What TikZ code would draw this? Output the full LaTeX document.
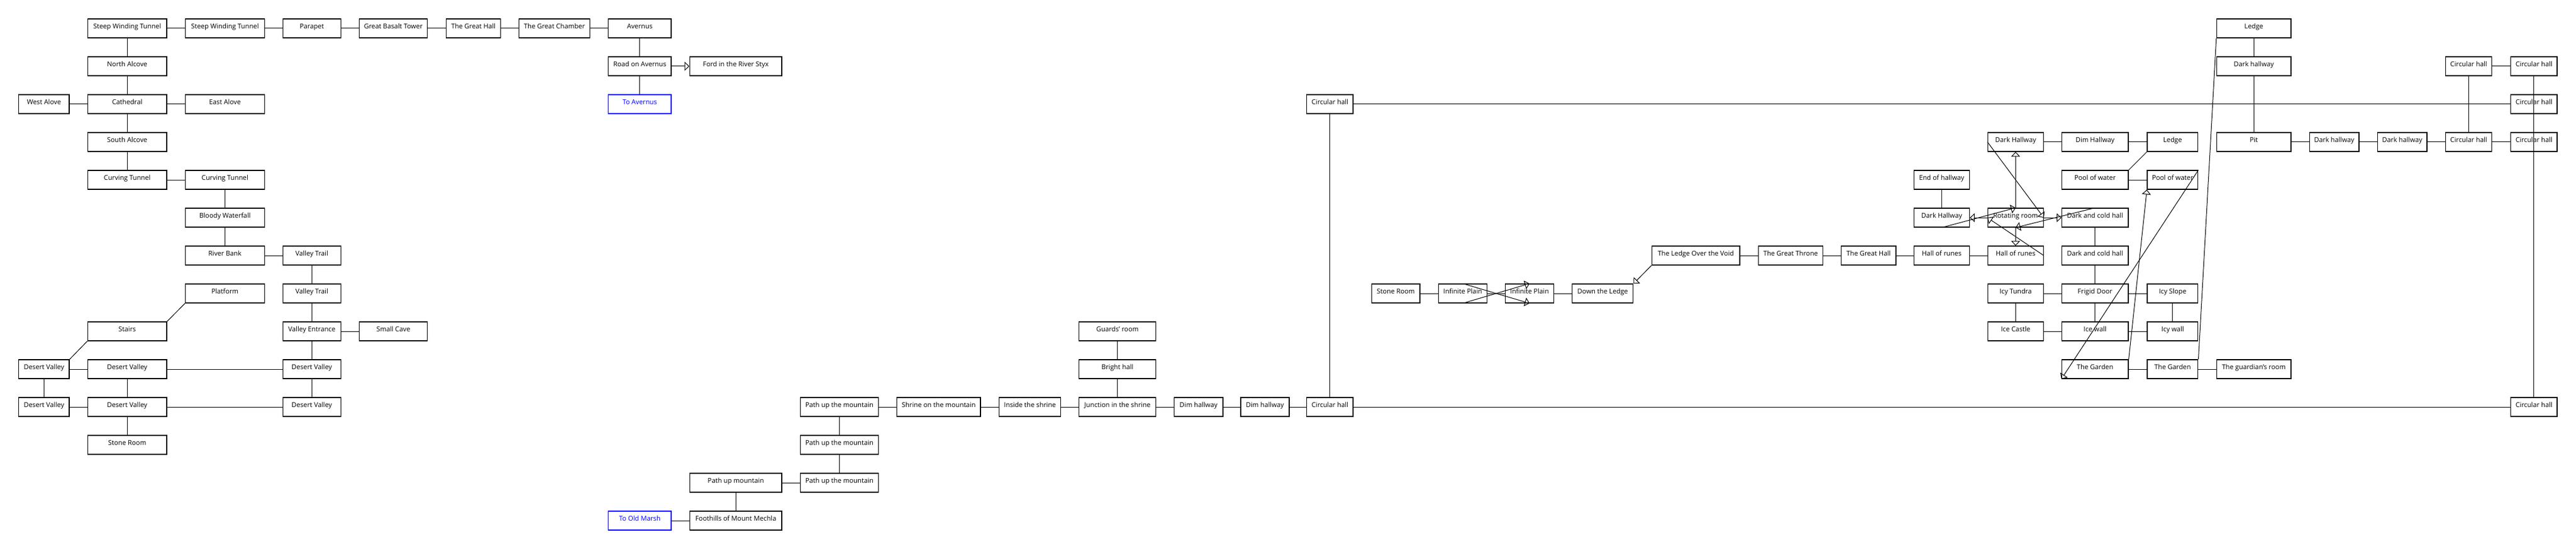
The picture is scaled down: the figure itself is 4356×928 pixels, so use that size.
\documentclass[tikz,border=0pt]{standalone}
\usepackage{fontspec}
\setmainfont{Open Sans}
\usetikzlibrary{arrows.meta}

\begin{document}
\begin{tikzpicture}[x=1pt,y=-1pt,line width=1pt,
  room/.style={draw,line width=1.3pt,minimum height=32pt,inner sep=0pt,
    text height=8.7pt,text depth=7.3pt,font=\fontsize{11.3}{13}\selectfont},
  exit/.style={room,draw=blue,text=blue},
  oneway/.style={-{Triangle[open,length=8pt,width=15pt]}}]
\useasboundingbox (0,0) rectangle (4356,928);

\node[room,minimum width=133.6pt] (swtA) at (215.1,48) {Steep Winding Tunnel};
\node[room,minimum width=133.6pt] (swtB) at (380.4,48) {Steep Winding Tunnel};
\node[room,minimum width=97.8pt] (parapet) at (527.3,48) {Parapet};
\node[room,minimum width=115.3pt] (tower) at (665.1,48) {Great Basalt Tower};
\node[room,minimum width=92.4pt] (greathallA) at (800.5,48) {The Great Hall};
\node[room,minimum width=119.6pt] (chamber) at (937.5,48) {The Great Chamber};
\node[room,minimum width=106.3pt] (avernus) at (1081.9,48) {Avernus};
\node[room,minimum width=133.6pt] (northalc) at (215.1,112) {North Alcove};
\node[room,minimum width=106.3pt] (road) at (1081.9,112) {Road on Avernus};
\node[room,minimum width=155.7pt] (ford) at (1244.2,112) {Ford in the River Styx};
\node[room,minimum width=85.4pt] (westalc) at (74.4,176) {West Alove};
\node[room,minimum width=133.6pt] (cathedral) at (215.1,176) {Cathedral};
\node[room,minimum width=133.6pt] (eastalc) at (380.4,176) {East Alove};
\node[exit,minimum width=106.3pt] (toavernus) at (1081.9,176) {To Avernus};
\node[room,minimum width=133.6pt] (southalc) at (215.1,240) {South Alcove};
\node[room,minimum width=133.6pt] (curvingA) at (215.1,304) {Curving Tunnel};
\node[room,minimum width=133.6pt] (curvingB) at (380.4,304) {Curving Tunnel};
\node[room,minimum width=133.6pt] (waterfall) at (380.4,368) {Bloody Waterfall};
\node[room,minimum width=133.6pt] (riverbank) at (380.4,432) {River Bank};
\node[room,minimum width=97.8pt] (trailA) at (527.3,432) {Valley Trail};
\node[room,minimum width=133.6pt] (platform) at (380.4,496) {Platform};
\node[room,minimum width=97.8pt] (trailB) at (527.3,496) {Valley Trail};
\node[room,minimum width=133.6pt] (stairs) at (215.1,560) {Stairs};
\node[room,minimum width=97.8pt] (entrance) at (527.3,560) {Valley Entrance};
\node[room,minimum width=115.3pt] (smallcave) at (665.1,560) {Small Cave};
\node[room,minimum width=85.4pt] (desertA) at (74.4,624) {Desert Valley};
\node[room,minimum width=133.6pt] (desertB) at (215.1,624) {Desert Valley};
\node[room,minimum width=97.8pt] (desertC) at (527.3,624) {Desert Valley};
\node[room,minimum width=85.4pt] (desertD) at (74.4,688) {Desert Valley};
\node[room,minimum width=133.6pt] (desertE) at (215.1,688) {Desert Valley};
\node[room,minimum width=97.8pt] (desertF) at (527.3,688) {Desert Valley};
\node[room,minimum width=133.6pt] (stoneroomA) at (215.1,752) {Stone Room};

\node[room,minimum width=131.7pt] (pathA) at (1419.5,688) {Path up the mountain};
\node[room,minimum width=141.5pt] (shrine) at (1587.3,688) {Shrine on the mountain};
\node[room,minimum width=104.2pt] (inside) at (1741.6,688) {Inside the shrine};
\node[room,minimum width=129.9pt] (junction) at (1889.6,688) {Junction in the shrine};
\node[room,minimum width=82.2pt] (dimA) at (2026.8,688) {Dim hallway};
\node[room,minimum width=82.1pt] (dimB) at (2138.9,688) {Dim hallway};
\node[room,minimum width=78.2pt] (circG) at (2248.9,688) {Circular hall};
\node[room,minimum width=129.9pt] (guards) at (1889.6,560) {Guards' room};
\node[room,minimum width=129.9pt] (bright) at (1889.6,624) {Bright hall};
\node[room,minimum width=131.7pt] (pathB) at (1419.5,752) {Path up the mountain};
\node[room,minimum width=155.7pt] (pathC) at (1244.2,816) {Path up mountain};
\node[room,minimum width=131.7pt] (pathD) at (1419.5,816) {Path up the mountain};
\node[exit,minimum width=106.3pt] (tomarsh) at (1081.9,880) {To Old Marsh};
\node[room,minimum width=155.7pt] (foothills) at (1244.2,880) {Foothills of Mount Mechla};

\node[room,minimum width=78.2pt] (circC) at (2248.9,176) {Circular hall};
\node[room,minimum width=81.3pt] (stoneroomB) at (2360.3,496) {Stone Room};
\node[room,minimum width=81.7pt] (plainA) at (2473.5,496) {Infinite Plain};
\node[room,minimum width=81.7pt] (plainB) at (2586.4,496) {Infinite Plain};
\node[room,minimum width=103.1pt] (downledge) at (2710.1,496) {Down the Ledge};
\node[room,minimum width=148.8pt] (ledgevoid) at (2867.7,432) {The Ledge Over the Void};
\node[room,minimum width=108.5pt] (throne) at (3027.9,432) {The Great Throne};
\node[room,minimum width=92.4pt] (greathallB) at (3159.8,432) {The Great Hall};

\node[room,minimum width=94pt] (darkhallN) at (3408.4,240) {Dark Hallway};
\node[room,minimum width=112.5pt] (dimhallN) at (3542.7,240) {Dim Hallway};
\node[room,minimum width=85.8pt] (ledgeN) at (3673.9,240) {Ledge};
\node[room,minimum width=94pt] (endhall) at (3283.4,304) {End of hallway};
\node[room,minimum width=112.5pt] (poolA) at (3542.7,304) {Pool of water};
\node[room,minimum width=85.8pt] (poolB) at (3673.9,304) {Pool of water};
\node[room,minimum width=94pt] (darkhallW) at (3283.4,368) {Dark Hallway};
\node[room,minimum width=94pt] (rotating) at (3408.4,368) {Rotating room};
\node[room,minimum width=112.5pt] (coldhallA) at (3542.7,368) {Dark and cold hall};
\node[room,minimum width=94pt] (runesA) at (3283.4,432) {Hall of runes};
\node[room,minimum width=94pt] (runesB) at (3408.4,432) {Hall of runes};
\node[room,minimum width=112.5pt] (coldhallB) at (3542.7,432) {Dark and cold hall};
\node[room,minimum width=94pt] (tundra) at (3408.4,496) {Icy Tundra};
\node[room,minimum width=112.5pt] (frigid) at (3542.7,496) {Frigid Door};
\node[room,minimum width=85.8pt] (icyslope) at (3673.9,496) {Icy Slope};
\node[room,minimum width=94pt] (icecastle) at (3408.4,560) {Ice Castle};
\node[room,minimum width=112.5pt] (icewall) at (3542.7,560) {Ice wall};
\node[room,minimum width=85.8pt] (icywall) at (3673.9,560) {Icy wall};
\node[room,minimum width=112.5pt] (gardenA) at (3542.7,624) {The Garden};
\node[room,minimum width=85.8pt] (gardenB) at (3673.9,624) {The Garden};
\node[room,minimum width=125.6pt] (guardian) at (3811.2,624) {The guardian's room};

\node[room,minimum width=125.6pt] (ledgeT) at (3811.2,48) {Ledge};
\node[room,minimum width=125.6pt] (darkhallT) at (3811.2,112) {Dark hallway};
\node[room,minimum width=125.6pt] (pit) at (3811.2,240) {Pit};
\node[room,minimum width=83.7pt] (darkhallP) at (3947.2,240) {Dark hallway};
\node[room,minimum width=83.4pt] (darkhallQ) at (4062.2,240) {Dark hallway};
\node[room,minimum width=78.3pt] (circA) at (4174.6,112) {Circular hall};
\node[room,minimum width=78.3pt] (circB) at (4284.9,112) {Circular hall};
\node[room,minimum width=78.3pt] (circD) at (4284.9,176) {Circular hall};
\node[room,minimum width=78.3pt] (circE) at (4174.6,240) {Circular hall};
\node[room,minimum width=78.3pt] (circF) at (4284.9,240) {Circular hall};
\node[room,minimum width=78.3pt] (circH) at (4284.9,688) {Circular hall};

\foreach \a/\b in {swtA/swtB, swtB/parapet, parapet/tower, tower/greathallA,
  greathallA/chamber, chamber/avernus, westalc/cathedral, cathedral/eastalc,
  curvingA/curvingB, riverbank/trailA, entrance/smallcave, desertA/desertB,
  desertB/desertC, desertD/desertE, desertE/desertF, swtA/northalc,
  northalc/cathedral, cathedral/southalc, southalc/curvingA, curvingB/waterfall,
  waterfall/riverbank, trailA/trailB, trailB/entrance, entrance/desertC,
  desertA/desertD, desertB/desertE, desertC/desertF, desertE/stoneroomA,
  avernus/road, road/toavernus}
  \draw (\a) -- (\b);
\foreach \a/\b in {tomarsh/foothills, foothills/pathC, pathC/pathD, pathD/pathB,
  pathB/pathA, pathA/shrine, shrine/inside, inside/junction, junction/bright,
  bright/guards, junction/dimA, dimA/dimB, dimB/circG, circG/circH, circG/circC,
  circC/circD, stoneroomB/plainA, plainA/plainB, plainB/downledge,
  ledgevoid/throne, throne/greathallB, greathallB/runesA, runesA/runesB}
  \draw (\a) -- (\b);
\foreach \a/\b in {darkhallN/dimhallN, dimhallN/ledgeN, poolA/poolB,
  endhall/darkhallW, coldhallA/coldhallB, coldhallB/frigid, tundra/frigid,
  frigid/icyslope, icecastle/icewall, icewall/icywall, tundra/icecastle,
  frigid/icewall, icyslope/icywall, gardenA/gardenB, gardenB/guardian,
  ledgeT/darkhallT, darkhallT/pit, pit/darkhallP, darkhallP/darkhallQ,
  darkhallQ/circE, circE/circF, circA/circB, circA/circE, circB/circH}
  \draw (\a) -- (\b);

\draw (platform.south west) -- (stairs.north east);
\draw (stairs.south west) -- (desertA.north east);
\draw (ledgeN.south west) -- (poolA.north east);
\draw (ledgeT.south west) -- (gardenB.north east);

\draw[oneway] (road) -- (ford);
\draw[oneway] (ledgevoid.south west) -- (downledge.north east);
\draw[oneway] (plainA.north) -- (plainB.south);
\draw[oneway] (plainA.south) -- (plainB.north);
\draw[oneway] (rotating.north) -- (darkhallN.south);
\draw[oneway] (darkhallW.south) -- (rotating.north);
\draw[oneway] (rotating.west) -- (darkhallW.east);
\draw[oneway] (darkhallN.west) -- (rotating.east);
\draw[oneway] (rotating.east) -- (coldhallA.west);
\draw[oneway] (coldhallA.north) -- (rotating.south);
\draw[oneway] (rotating.south) -- (runesB.north);
\draw[oneway] (runesB.east) -- (rotating.west);
\draw[oneway] (gardenA.north east) -- (poolB.south west);
\draw[oneway] (poolB.north east) -- (gardenA.south west);
\end{tikzpicture}
\end{document}
